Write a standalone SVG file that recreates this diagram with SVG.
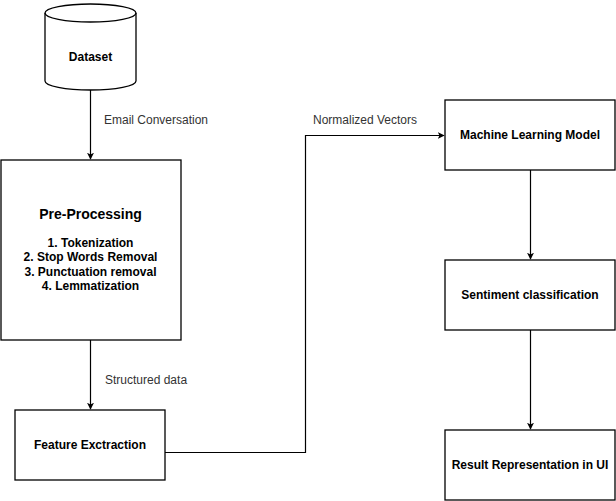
<svg xmlns="http://www.w3.org/2000/svg" width="616" height="501" viewBox="0 0 616 501">
<defs>
<style>
.box{fill:#fff;stroke:#000;stroke-width:1.3}
.t{font-family:"Liberation Sans",Arial,sans-serif;font-size:12px;font-weight:bold;fill:#000;text-anchor:middle}
.h{font-size:14px}
.lbl{font-family:"Liberation Sans",Arial,sans-serif;font-size:12px;fill:#333}
.edge{fill:none;stroke:#000;stroke-width:1.2}
</style>
<marker id="arr" viewBox="0 0 10 10" refX="9" refY="5" markerWidth="7" markerHeight="7" markerUnits="userSpaceOnUse" orient="auto">
<path d="M0,0 L10,5 L0,10 L2.5,5 Z" fill="#000"/>
</marker>
</defs>
<rect width="616" height="501" fill="#fff"/>
<g id="connectors">
<path class="edge" d="M90.5,90 V159" marker-end="url(#arr)"/>
<path class="edge" d="M90.5,340 V409" marker-end="url(#arr)"/>
<path class="edge" d="M165,452.5 H305.5 V135.5 H444" marker-end="url(#arr)"/>
<path class="edge" d="M530.5,170 V259" marker-end="url(#arr)"/>
<path class="edge" d="M530.5,330 V429" marker-end="url(#arr)"/>
<text class="lbl" x="104" y="124">Email Conversation</text>
<text class="lbl" x="105" y="384">Structured data</text>
<text class="lbl" x="313" y="124">Normalized Vectors</text>
</g>
<g id="dataset">
<path class="box" d="M45,13 A45.5,9 0 0 1 136,13 V81 A45.5,9 0 0 1 45,81 Z"/>
<path class="box" style="fill:none" d="M45,13 A45.5,9 0 0 0 136,13"/>
<text class="t" x="90.5" y="61">Dataset</text>
</g>
<g id="preprocessing">
<rect class="box" x="1" y="160" width="180" height="180"/>
<text class="t h" x="90.5" y="219">Pre-Processing</text>
<text class="t" x="90.5" y="247">1. Tokenization</text>
<text class="t" x="90.5" y="261">2. Stop Words Removal</text>
<text class="t" x="90.5" y="276">3. Punctuation removal</text>
<text class="t" x="90.5" y="290">4. Lemmatization</text>
</g>
<g id="feature">
<rect class="box" x="15" y="410" width="150" height="70"/>
<text class="t" x="90" y="449">Feature Exctraction</text>
</g>
<g id="mlm">
<rect class="box" x="445" y="100" width="170" height="70"/>
<text class="t" x="530" y="139">Machine Learning Model</text>
</g>
<g id="sentiment">
<rect class="box" x="445" y="260" width="170" height="70"/>
<text class="t" x="530" y="299">Sentiment classification</text>
</g>
<g id="result">
<rect class="box" x="445" y="430" width="170" height="70"/>
<text class="t" x="530" y="469">Result Representation in UI</text>
</g>
</svg>
